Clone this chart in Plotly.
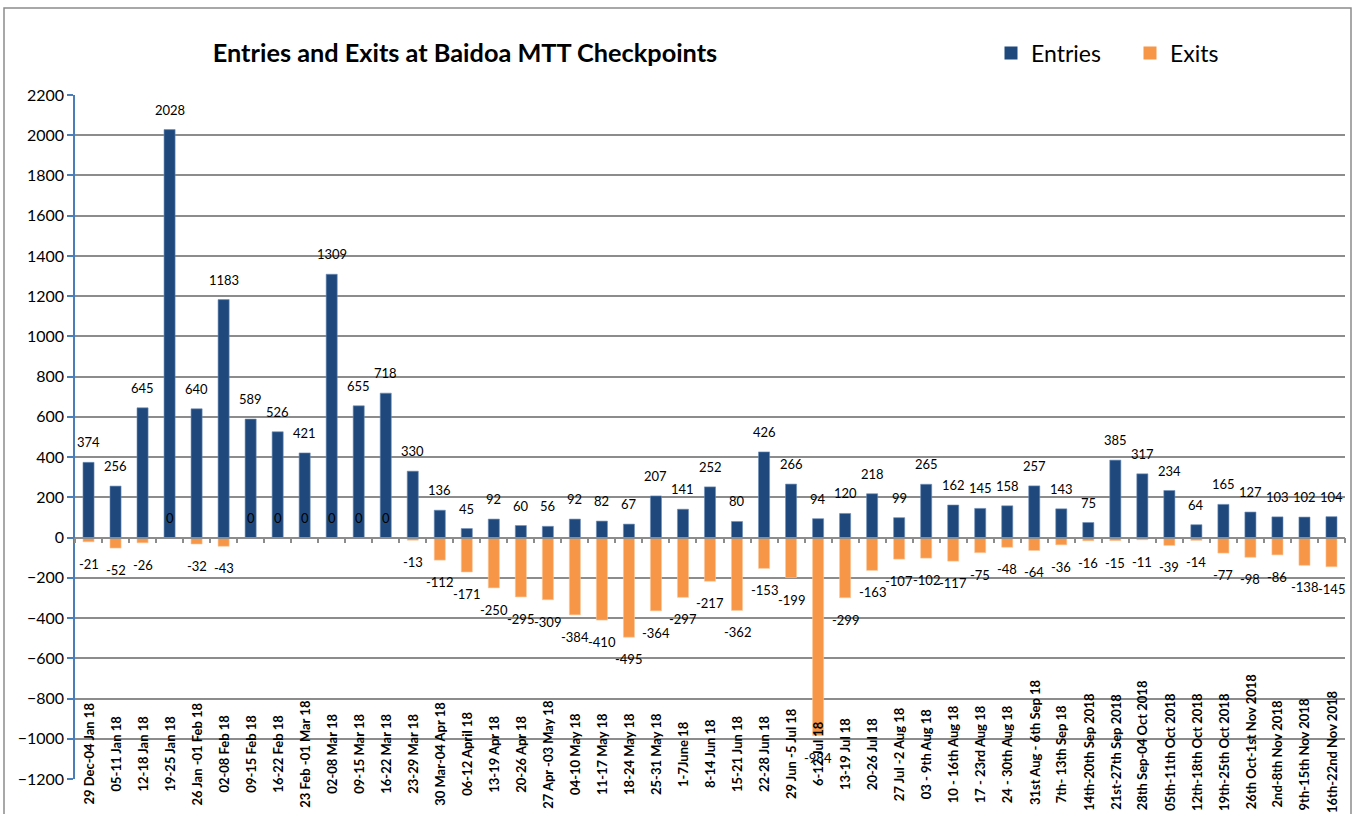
import plotly.graph_objects as go

categories = [
    "29 Dec-04 Jan 18", "05-11 Jan 18", "12-18 Jan 18", "19-25 Jan 18",
    "26 Jan -01 Feb 18", "02-08 Feb 18", "09-15 Feb 18", "16-22 Feb 18",
    "23 Feb -01 Mar 18", "02-08 Mar 18", "09-15 Mar 18", "16-22 Mar 18",
    "23-29 Mar 18", "30 Mar-04 Apr 18", "06-12 April 18", "13-19 Apr 18",
    "20-26 Apr 18", "27 Apr -03 May 18", "04-10 May 18", "11-17 May 18",
    "18-24 May 18", "25-31 May 18", "1-7June 18", "8-14 Jun 18",
    "15-21 Jun 18", "22-28 Jun 18", "29 Jun -5 Jul 18", "6-12 Jul 18",
    "13-19 Jul 18", "20-26 Jul 18", "27 Jul -2 Aug 18", "03 - 9th Aug 18",
    "10 - 16th Aug 18", "17 - 23rd Aug 18", "24 - 30th Aug 18",
    "31st Aug - 6th Sep 18", "7th- 13th Sep 18", "14th-20th Sep 2018",
    "21st-27th Sep 2018", "28th Sep-04 Oct 2018", "05th-11th Oct 2018",
    "12th-18th Oct 2018", "19th-25th Oct 2018", "26th Oct-1st Nov 2018",
    "2nd-8th Nov 2018", "9th-15th Nov 2018", "16th-22nd Nov 2018",
]

entries = [374, 256, 645, 2028, 640, 1183, 589, 526, 421, 1309, 655, 718,
           330, 136, 45, 92, 60, 56, 92, 82, 67, 207, 141, 252, 80, 426, 266,
           94, 120, 218, 99, 265, 162, 145, 158, 257, 143, 75, 385, 317, 234,
           64, 165, 127, 103, 102, 104]

exits = [-21, -52, -26, 0, -32, -43, 0, 0, 0, 0, 0, 0, -13, -112, -171, -250,
         -295, -309, -384, -410, -495, -364, -297, -217, -362, -153, -199,
         -984, -299, -163, -107, -102, -117, -75, -48, -64, -36, -16, -15,
         -11, -39, -14, -77, -98, -86, -138, -145]

y_ticks = list(range(-1200, 2201, 200))

FONT = "Lato"
BLUE = "#1F497D"
ORANGE = "#F79646"

W, H = 1356, 814
ML, MR, MT, MB = 75, 11, 95, 35
Y0, Y1 = -1200, 2200
px_per_unit = (H - MT - MB) / (Y1 - Y0)


def px_to_y(py):
    # convert a vertical pixel position into a y-axis value
    return Y1 - (py - MT) / px_per_unit


fig = go.Figure()
fig.add_trace(go.Bar(x=categories, y=entries, name="Entries", showlegend=False,
                     marker=dict(color=BLUE, line=dict(width=0.6, color="#6f8fb8")),
                     width=0.41))
fig.add_trace(go.Bar(x=categories, y=exits, name="Exits", showlegend=False,
                     marker=dict(color=ORANGE, line=dict(width=0.6, color="#fbc79a")),
                     width=0.41))
# legend entries with larger square swatches
fig.add_trace(go.Scatter(x=[None], y=[None], mode="markers", name="Entries",
                         marker=dict(symbol="square", size=13, color=BLUE)))
fig.add_trace(go.Scatter(x=[None], y=[None], mode="markers", name="Exits",
                         marker=dict(symbol="square", size=13, color=ORANGE)))

annotations = []
for c, v in zip(categories, entries):
    annotations.append(dict(x=c, y=v, xref="x", yref="y", text=str(v),
                            showarrow=False, yshift=20,
                            font=dict(family=FONT, size=13, color="#000")))
for c, v in zip(categories, exits):
    annotations.append(dict(x=c, y=v, xref="x", yref="y", text=str(v),
                            showarrow=False, yshift=20 if v >= 0 else -22,
                            font=dict(family=FONT, size=13, color="#000")))
for c in categories:
    half = 3.25 * len(c)          # approx half text length in px
    center = min(754, 810 - half)  # keep long labels inside the chart
    annotations.append(dict(x=c, y=px_to_y(center), xref="x", yref="y",
                            text="<b>%s</b>" % c,
                            showarrow=False, textangle=-90,
                            xanchor="center", yanchor="middle",
                            font=dict(family=FONT, size=13, color="#000")))

fig.update_layout(
    width=W, height=H,
    margin=dict(l=ML, r=MR, t=MT, b=MB),
    paper_bgcolor="white", plot_bgcolor="white",
    barmode="overlay",
    title=dict(text="<b>Entries and Exits at Baidoa MTT Checkpoints</b>",
               x=465 / W, xref="container", xanchor="center",
               y=1 - 53 / H, yref="container", yanchor="middle",
               font=dict(family=FONT, size=25.3, color="#000")),
    legend=dict(orientation="h", x=(991 - ML) / (W - ML - MR), xanchor="left",
                y=(H - MB - 53) / (H - MT - MB), yanchor="middle",
                font=dict(family=FONT, size=23, color="#000"),
                itemsizing="trace", itemwidth=30,
                entrywidth=94, bgcolor="rgba(0,0,0,0)"),
    xaxis=dict(type="category", range=[-0.5, len(categories) - 0.5],
               anchor="free", position=(0 - Y0) / (Y1 - Y0),
               showline=True, linecolor="#8c8c8c", linewidth=1.5,
               ticks="outside", tickson="boundaries", ticklen=5,
               tickcolor="#8c8c8c", tickwidth=1.5,
               showticklabels=False, showgrid=False, zeroline=False),
    yaxis=dict(range=[Y0, Y1], tickvals=y_ticks,
               showgrid=True, gridcolor="#8c8c8c", gridwidth=1.5,
               zeroline=False, showline=True, linecolor="#4A7EBB", linewidth=1.5,
               ticks="outside", ticklen=6, tickcolor="#4A7EBB", tickwidth=1.5,
               tickfont=dict(family=FONT, size=16, color="#000")),
    annotations=annotations,
    shapes=[dict(type="rect", xref="paper", yref="paper",
                 x0=(4 - ML) / (W - ML - MR), x1=(1351 - ML) / (W - ML - MR),
                 y0=(H - MB - 830) / (H - MT - MB), y1=(H - MB - 8) / (H - MT - MB),
                 line=dict(color="#8c8c8c", width=1.5), layer="below")],
)

fig.write_html("out.html",
               config={"displayModeBar": False},
               post_script="document.body.style.margin='0';"
                           "document.body.style.overflow='hidden';")
